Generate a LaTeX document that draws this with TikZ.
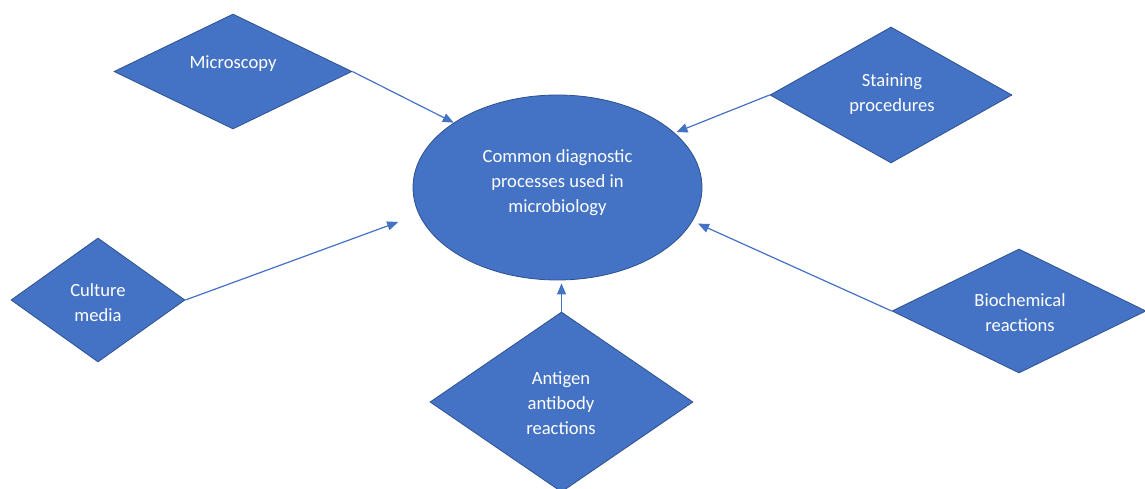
\documentclass[tikz,border=0pt]{standalone}
\usepackage{fontspec}
\setmainfont{Carlito}
\usetikzlibrary{shapes.geometric,arrows.meta}
\definecolor{office}{HTML}{4472C4}
\definecolor{officedark}{HTML}{2F528F}

\begin{document}
\begin{tikzpicture}[x=1pt,y=-1pt,
  shapebox/.style={draw=officedark, fill=office, line width=0.8pt, inner sep=0pt},
  dia/.style={shapebox, diamond, aspect=2},
  lbl/.style={text=white, align=center, inner sep=0pt, font=\fontsize{18.6}{25}\selectfont},
  link/.style={draw=office, line width=1.2pt, -{Triangle[length=11pt,width=9pt]}}]
\useasboundingbox (0,0) rectangle (1145,489);

% central topic
\node[shapebox, ellipse, minimum width=289pt, minimum height=185pt] (e) at (557.5,187.5) {};

% surrounding processes
\node[dia, minimum width=238pt, minimum height=115pt] (m) at (233,71.5) {};
\node[dia, minimum width=242pt, minimum height=136pt] (s) at (891,95) {};
\node[dia, minimum width=174pt, minimum height=124pt] (c) at (98,300) {};
\node[dia, minimum width=263pt, minimum height=180pt] (a) at (561.5,402) {};
\node[dia, minimum width=254pt, minimum height=124pt] (b) at (1019,311) {};

% labels
\node[lbl] (et) at (557.5,183) {Common diagnostic\\processes used in\\microbiology};
\node[lbl] (mt) at (233,64) {Microscopy};
\node[lbl] (st) at (892,94.5) {Staining\\procedures};
\node[lbl] (ct) at (98,303) {Culture\\media};
\node[lbl] (at) at (561,403) {Antigen\\antibody\\reactions};
\node[lbl] (bt) at (1020,313) {Biochemical\\reactions};

% connectors
\draw[link] (m.east) -- (e.148);
\draw[link, shorten >=2pt] (s.west) -- (e.25);
\draw[link, shorten >=22pt] (c.east) -- (e.191.5);
\draw[link, shorten >=6pt] (b.west) -- (e.-14.3);
\draw[link, shorten >=3pt] (a.north) -- (a.north |- e.south);
\end{tikzpicture}
\end{document}
